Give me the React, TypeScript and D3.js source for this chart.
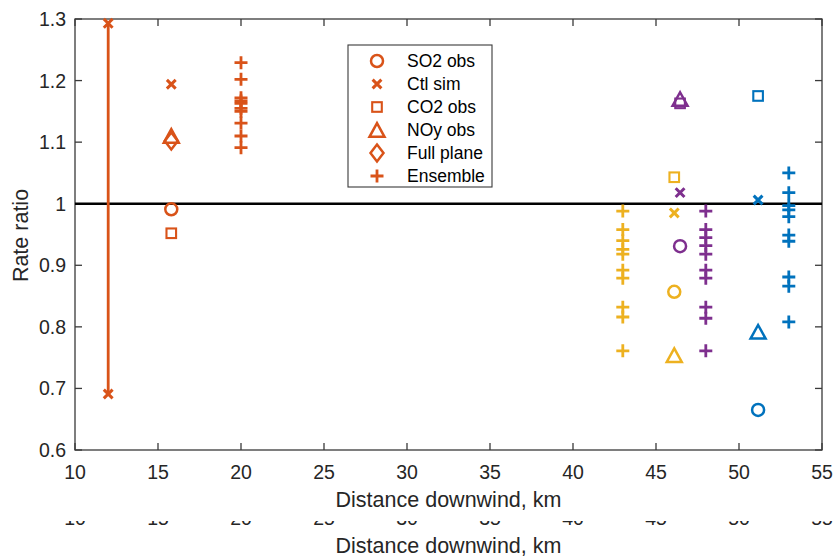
import React from "react";
import * as d3 from "d3";

// ---- data ----
const xTicks = [10, 15, 20, 25, 30, 35, 40, 45, 50, 55];
const yTicks = [0.6, 0.7, 0.8, 0.9, 1.0, 1.1, 1.2, 1.3];
const yTickLabels = ["0.6", "0.7", "0.8", "0.9", "1", "1.1", "1.2", "1.3"];
const legendNames = ["SO2 obs", "Ctl sim", "CO2 obs", "NOy obs", "Full plane", "Ensemble"];
const legendMarkers = ["circle", "x", "square", "triangle", "diamond", "plus"];

const caseColors = ["#D95319", "#EDB120", "#7E2F8E", "#0072BD"];
const obsX = [15.8, 46.1, 46.45, 51.15];
const so2Obs = [0.991, 0.857, 0.931, 0.665];
const ctlSim = [1.194, 0.985, 1.018, 1.006];
const co2Obs = [0.952, 1.043, 1.163, 1.175];
const noyObs = [1.11, 0.754, 1.17, 0.792];
const fullPlane = [1.102, null, null, null];

const ensembleX = [20, 43, 48, 53];
const ensembleA = [1.229, 1.202, 1.172, 1.167, 1.163, 1.155, 1.15, 1.131, 1.11, 1.091];
const ensembleB = [0.988, 0.958, 0.94, 0.926, 0.918, 0.892, 0.879, 0.832, 0.816, 0.761];
const ensembleC = [0.988, 0.958, 0.945, 0.932, 0.918, 0.892, 0.879, 0.832, 0.814, 0.761];
const ensembleD = [1.05, 1.018, 0.997, 0.99, 0.979, 0.949, 0.939, 0.881, 0.866, 0.808];
const ensembles = [ensembleA, ensembleB, ensembleC, ensembleD];

const rangeX = 12;
const rangeLow = 0.691;
const rangeHigh = 1.293;
const refLine = 1.0;

// ---- layout ----
const W = 838;
const H = 557;
const x = d3.scaleLinear().domain([10, 55]).range([75, 822]);
const y = d3.scaleLinear().domain([0.6, 1.3]).range([450, 19]);
const FONT = "'Liberation Sans', Arial, Helvetica, sans-serif";
const AX = "#3a3a3a";

function Marker({ type, cx, cy, color }: { type: string; cx: number; cy: number; color: string }) {
  const sw = 2.5;
  if (type === "circle")
    return <circle cx={cx} cy={cy} r={6} fill="none" stroke={color} strokeWidth={sw} />;
  if (type === "square")
    return <rect x={cx - 4.8} y={cy - 4.8} width={9.6} height={9.6} fill="none" stroke={color} strokeWidth={2.1} />;
  if (type === "x") {
    const s = 4.4;
    return (
      <path d={`M${cx - s},${cy - s}L${cx + s},${cy + s}M${cx - s},${cy + s}L${cx + s},${cy - s}`} stroke={color} strokeWidth={3} fill="none" />
    );
  }
  if (type === "plus") {
    const s = 6.5;
    return <path d={`M${cx - s},${cy}L${cx + s},${cy}M${cx},${cy - s}L${cx},${cy + s}`} stroke={color} strokeWidth={2.8} fill="none" />;
  }
  if (type === "triangle") {
    const hw = 7.5;
    const hh = 6.8;
    return (
      <path d={`M${cx},${cy - hh}L${cx + hw},${cy + hh}L${cx - hw},${cy + hh}Z`} stroke={color} strokeWidth={sw} fill="none" strokeLinejoin="miter" />
    );
  }
  if (type === "diamond") {
    const hw = 6.5;
    const hh = 8.5;
    return (
      <path d={`M${cx},${cy - hh}L${cx + hw},${cy}L${cx},${cy + hh}L${cx - hw},${cy}Z`} stroke={color} strokeWidth={sw} fill="none" />
    );
  }
  return null;
}

function XTickLabels({ dy }: { dy: number }) {
  return (
    <g>
      {xTicks.map((t) => (
        <text key={t} x={x(t)} y={479 + dy} textAnchor="middle" fontSize={19.5} fill="#262626" fontFamily={FONT}>
          {t}
        </text>
      ))}
      <text x={(x(10) + x(55)) / 2} y={507 + dy} textAnchor="middle" fontSize={21.5} fill="#262626" fontFamily={FONT}>
        Distance downwind, km
      </text>
    </g>
  );
}

export default function App() {
  const [x0, x1] = x.range();
  const [y0, y1] = y.range();
  return (
    <svg width={W} height={H} style={{ position: "absolute", left: 0, top: 0, background: "#fff" }} fontFamily={FONT}>
      <defs>
        <clipPath id="dupClip">
          <rect x={0} y={521} width={W} height={H - 521} />
        </clipPath>
      </defs>
      <rect x={0} y={0} width={W} height={H} fill="#fff" />

      {/* axes box */}
      <rect x={x0} y={y1} width={x1 - x0} height={y0 - y1} fill="none" stroke={AX} strokeWidth={1.3} />
      {xTicks.map((t) => (
        <g key={"xt" + t}>
          <line x1={x(t)} x2={x(t)} y1={y0} y2={y0 - 7} stroke={AX} strokeWidth={1.3} />
          <line x1={x(t)} x2={x(t)} y1={y1} y2={y1 + 7} stroke={AX} strokeWidth={1.3} />
        </g>
      ))}
      {yTicks.map((t, i) => (
        <g key={"yt" + t}>
          <line x1={x0} x2={x0 + 7} y1={y(t)} y2={y(t)} stroke={AX} strokeWidth={1.3} />
          <line x1={x1} x2={x1 - 7} y1={y(t)} y2={y(t)} stroke={AX} strokeWidth={1.3} />
          <text x={66} y={y(t)} dy="0.36em" textAnchor="end" fontSize={19.5} fill="#262626">
            {yTickLabels[i]}
          </text>
        </g>
      ))}

      <XTickLabels dy={0} />
      <g clipPath="url(#dupClip)">
        <XTickLabels dy={46} />
      </g>

      <text transform={`translate(28,${(y0 + y1) / 2 + 1}) rotate(-90)`} textAnchor="middle" fontSize={21.5} fill="#262626">
        Rate ratio
      </text>

      {/* reference line */}
      <line x1={x0} x2={x1} y1={y(refLine)} y2={y(refLine)} stroke="#000" strokeWidth={2.6} />

      {/* range line */}
      <line x1={x(rangeX)} x2={x(rangeX)} y1={y(rangeLow)} y2={y(rangeHigh)} stroke={caseColors[0]} strokeWidth={2.8} />
      <Marker type="x" cx={x(rangeX)} cy={y(rangeLow)} color={caseColors[0]} />
      <Marker type="x" cx={x(rangeX)} cy={y(rangeHigh)} color={caseColors[0]} />

      {caseColors.map((c, i) => (
        <g key={"case" + i}>
          <Marker type="circle" cx={x(obsX[i])} cy={y(so2Obs[i])} color={c} />
          <Marker type="x" cx={x(obsX[i])} cy={y(ctlSim[i])} color={c} />
          <Marker type="square" cx={x(obsX[i])} cy={y(co2Obs[i])} color={c} />
          <Marker type="triangle" cx={x(obsX[i])} cy={y(noyObs[i])} color={c} />
          {fullPlane[i] != null && <Marker type="diamond" cx={x(obsX[i])} cy={y(fullPlane[i] as number)} color={c} />}
          {ensembles[i].map((v, j) => (
            <Marker key={j} type="plus" cx={x(ensembleX[i])} cy={y(v)} color={c} />
          ))}
        </g>
      ))}

      {/* legend */}
      <g>
        <rect x={348} y={45} width={144} height={142} fill="#fff" stroke={AX} strokeWidth={1.1} />
        {legendNames.map((n, i) => (
          <g key={n}>
            <Marker type={legendMarkers[i]} cx={377} cy={61 + i * 23} color={caseColors[0]} />
            <text x={407} y={61 + i * 23} dy="0.36em" fontSize={17.5} fill="#000">
              {n}
            </text>
          </g>
        ))}
      </g>
    </svg>
  );
}
